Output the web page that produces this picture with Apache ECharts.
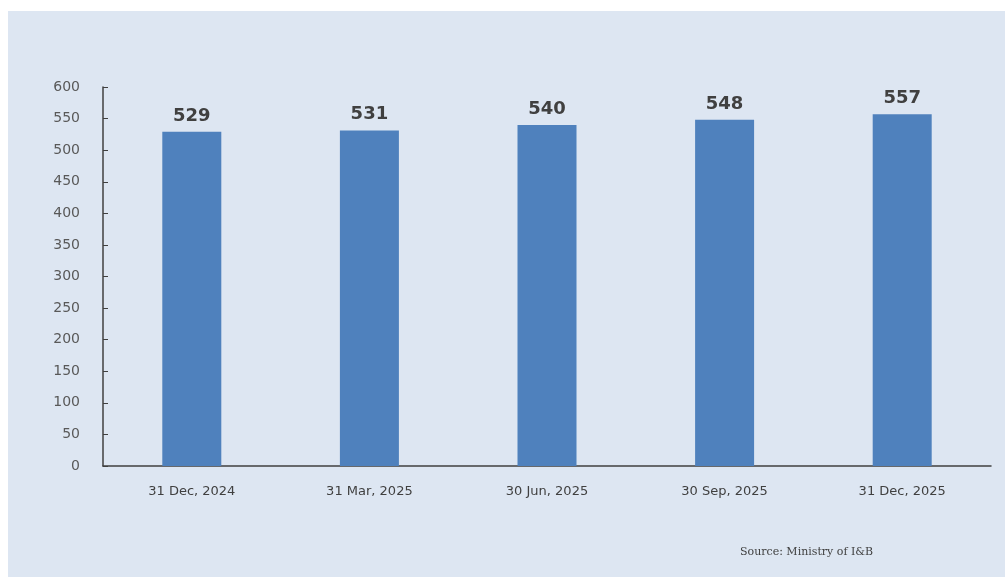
<!DOCTYPE html>
<html><head><meta charset="utf-8">
<script src="https://cdn.jsdelivr.net/npm/echarts@6/dist/echarts.min.js"></script>
<style>html,body{margin:0;padding:0;background:#fff}#c{width:1005px;height:577px}</style>
</head><body><div id="c"></div>
<script>
const categories = ['31 Dec, 2024','31 Mar, 2025','30 Jun, 2025','30 Sep, 2025','31 Dec, 2025'];
const values = [529, 531, 540, 548, 557];
const yTicks = {min: 0, max: 600, interval: 50};

const chart = echarts.init(document.getElementById('c'), null, {renderer: 'canvas'});
chart.setOption({
  backgroundColor: '#ffffff',
  animation: false,
  graphic: [
    {type: 'rect', z: -10, shape: {x: 8, y: 11, width: 1000, height: 570}, style: {fill: '#dde6f2'}},
    {type: 'text', left: 740, top: 547, style: {text: 'Source: Ministry of I&B', font: '11px "DejaVu Serif", serif', fill: '#404040'}}
  ],
  grid: {left: 103, right: 14, top: 87, bottom: 111},
  xAxis: {
    type: 'category', data: categories,
    axisLine: {lineStyle: {color: '#404040', width: 1.5}},
    axisTick: {show: false},
    axisLabel: {color: '#404040', fontSize: 13, fontFamily: 'DejaVu Sans', margin: 19}
  },
  yAxis: {
    type: 'value', min: yTicks.min, max: yTicks.max, interval: yTicks.interval,
    axisLine: {show: true, lineStyle: {color: '#404040', width: 1.5}},
    axisTick: {show: true, inside: true, length: 5, lineStyle: {color: '#404040'}},
    splitLine: {show: false},
    axisLabel: {color: '#595959', fontSize: 14, fontFamily: 'DejaVu Sans', margin: 23}
  },
  series: [{
    type: 'bar', data: values, barWidth: 59,
    itemStyle: {color: '#4f81bd'},
    label: {show: true, position: 'top', distance: 7, color: '#404040', fontWeight: 'bold', fontSize: 18, fontFamily: 'DejaVu Sans'}
  }]
});
</script></body></html>
